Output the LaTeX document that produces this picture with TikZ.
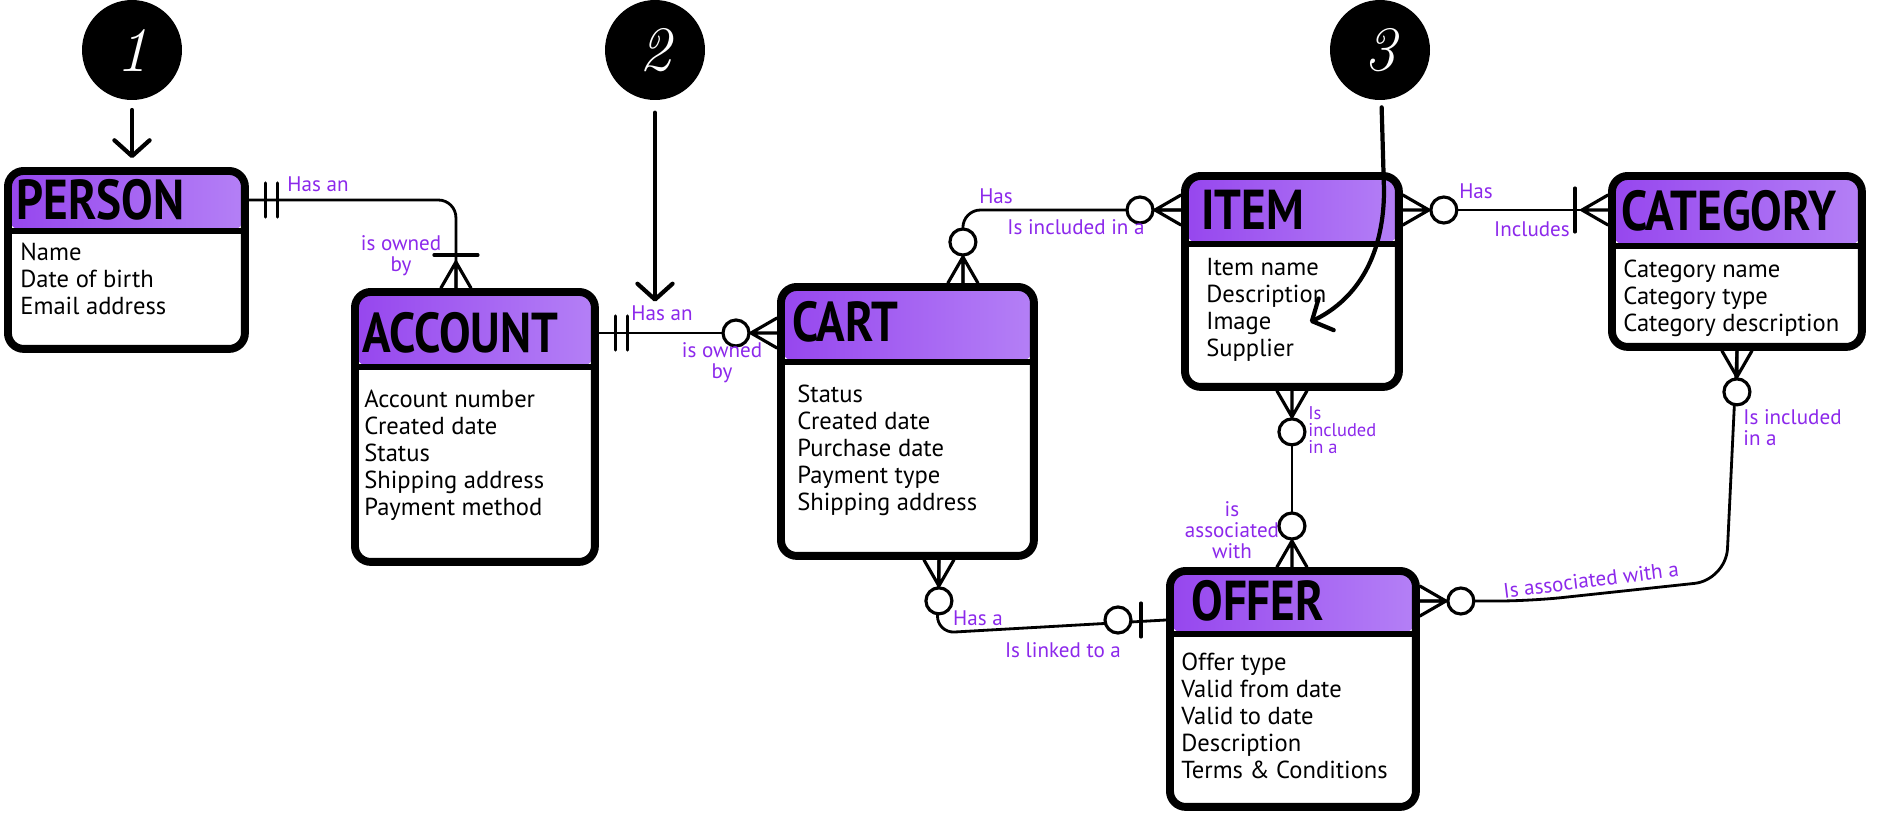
\documentclass[tikz,border=0pt]{standalone}
\usepackage{fontspec}
\setsansfont{PT Sans}
\newfontfamily\titlefont[FakeStretch=0.84]{PT Sans}
\usetikzlibrary{arrows.meta,calc}

\definecolor{headL}{RGB}{150,70,238}
\definecolor{headR}{RGB}{180,128,246}
\definecolor{relpurple}{RGB}{140,40,235}

\tikzset{
  % entity box, #1 = height of the purple header
  entity/.style={draw, line width=4.5pt, rounded corners=9pt, fill=white,
    inner sep=0pt, anchor=north west,
    path picture={
      \shade[left color=headL, right color=headR]
        (path picture bounding box.north west) rectangle
        ([yshift=-#1]path picture bounding box.north east);
      \draw[line width=3.4pt]
        ([yshift=-#1]path picture bounding box.north west) --
        ([yshift=-#1]path picture bounding box.north east);}},
  title/.style={font=\titlefont\bfseries\fontsize{32}{32}\selectfont,
    anchor=west, inner sep=0pt},
  attrs/.style={font=\sffamily\fontsize{14}{15.3}\selectfont, align=left,
    anchor=north west, inner sep=0pt},
  rel/.style={text=relpurple, font=\sffamily\fontsize{12}{12}\selectfont,
    align=center, inner sep=0pt},
  conn/.style={line width=1.6pt, rounded corners=10pt},
  badge/.style={circle, fill=black, text=white, minimum size=2cm, inner sep=0pt,
    font=\rmfamily\itshape\fontsize{36}{36}\selectfont},
  pointer/.style={line width=2.4pt, line cap=round,
    -{Straight Barb[length=9pt,width=20pt,round]}},
  footline/.style={line width=1.8pt, line cap=round},
  % crow's foot ends, drawn with the entity at the origin, line along +x
  pics/zeromany/.style={code={
    \draw[footline] (0,15) -- (26,0) -- (0,-15) (0,0) -- (26,0);
    \draw[footline, fill=white] (41,0) circle[radius=13];}},
  pics/onemany/.style={code={
    \draw[footline] (0,15) -- (26,0) -- (0,-15) (0,0) -- (26,0);
    \draw[footline] (33,-22) -- (33,22);}},
  pics/onlyone/.style={code={
    \draw[footline] (17,-17) -- (17,17) (29,-17) -- (29,17);}},
  pics/zeroone/.style={code={
    \draw[footline] (25,-17) -- (25,17);
    \draw[footline, fill=white] (48,0) circle[radius=13];}},
}

\begin{document}
\begin{tikzpicture}[x=0.02cm, y=-0.02cm, font=\sffamily]
  \useasboundingbox (0,0) rectangle (1890,812);

  % Entities
  \node[entity=1.2cm, minimum width=4.74cm, minimum height=3.56cm] (person) at (4,167) {};
  \node[entity=1.5cm, minimum width=4.8cm, minimum height=5.4cm] (account) at (351,288) {};
  \node[entity=1.5cm, minimum width=5.06cm, minimum height=5.38cm] (cart) at (777,283) {};
  \node[entity=1.36cm, minimum width=4.28cm, minimum height=4.22cm] (item) at (1181,172) {};
  \node[entity=1.4cm, minimum width=5cm, minimum height=3.42cm] (category) at (1608,172) {};
  \node[entity=1.26cm, minimum width=4.92cm, minimum height=4.72cm] (offer) at (1166,567) {};

  % Titles
  \node[title] (personT) at (16,200) {PERSON};
  \node[title] (accountT) at (362,333) {ACCOUNT};
  \node[title] (cartT) at (792,322) {CART};
  \node[title] (itemT) at (1201,210) {ITEM};
  \node[title] (categoryT) at (1621,211) {CATEGORY};
  \node[title] (offerT) at (1191,601) {OFFER};

  % Attributes
  \node[attrs] (personA) at (20,243) {Name\\Date of birth\\Email address};
  \node[attrs] (accountA) at (364,390)
    {Account number\\Created date\\Status\\Shipping address\\Payment method};
  \node[attrs] (cartA) at (797,385)
    {Status\\Created date\\Purchase date\\Payment type\\Shipping address};
  \node[attrs] (itemA) at (1206,258) {Item name\\Description\\Image\\Supplier};
  \node[attrs] (categoryA) at (1623,260)
    {Category name\\Category type\\Category description};
  \node[attrs] (offerA) at (1181,653)
    {Offer type\\Valid from date\\Valid to date\\Description\\Terms \& Conditions};

  % PERSON -- ACCOUNT
  \coordinate (accTop) at ([xshift=-0.38cm]account.north);
  \draw[conn] (person.east |- personT) -| (accTop);
  \pic at (person.east |- personT) {onlyone};
  \pic[rotate=90] at (accTop) {onemany};

  % ACCOUNT -- CART
  \draw[conn] (account.east |- accountT) -- (cart.west |- accountT);
  \pic at (account.east |- accountT) {onlyone};
  \pic[rotate=180] at (cart.west |- accountT) {zeromany};

  % CART -- ITEM
  \coordinate (cartTop) at ([xshift=1.11cm]cart.north);
  \draw[conn] (cartTop) |- (item.west |- itemT);
  \pic[rotate=90] at (cartTop) {zeromany};
  \pic[rotate=180] at (item.west |- itemT) {zeromany};

  % ITEM -- CATEGORY
  \draw[conn] (item.east |- itemT) -- (category.west |- itemT);
  \pic at (item.east |- itemT) {zeromany};
  \pic[rotate=180] at (category.west |- itemT) {onemany};

  % ITEM -- OFFER
  \draw[conn] (item.south) -- (item.south |- offer.north);
  \pic[rotate=-90] at (item.south) {zeromany};
  \pic[rotate=90] at (item.south |- offer.north) {zeromany};

  % CATEGORY -- OFFER
  \draw[conn, rounded corners=18pt] (category.south) -- (1726,580) -- (1530,601)
    -- (offer.east |- offerT);
  \pic[rotate=-90] at (category.south) {zeromany};
  \pic at (offer.east |- offerT) {zeromany};

  % CART -- OFFER
  \coordinate (cartBot) at ([xshift=0.63cm]cart.south);
  \coordinate (offerL) at ([yshift=-1.06cm]offer.north west);
  \draw[conn] (cartBot) -- (937,633) -- (offerL);
  \pic[rotate=-90] at (cartBot) {zeromany};
  \pic[rotate=180] at (offerL) {zeroone};

  % Relationship labels
  \node[rel] (lblP1) at (318,184) {Has an};
  \node[rel] (lblP2) at (401,256) {is owned\\by};
  \node[rel] (lblA1) at (662,313) {Has an};
  \node[rel] (lblA2) at (722,363) {is owned\\by};
  \node[rel] (lblC1) at (996,196) {Has};
  \node[rel] (lblC2) at (1076,227) {Is included in a};
  \node[rel] (lblI1) at (1476,191) {Has};
  \node[rel] (lblI2) at (1532,229) {Includes};
  \node[rel, align=left, anchor=west, font=\sffamily\fontsize{10.5}{9.5}\selectfont]
    (lblI3) at (1308,430) {Is\\included\\in a};
  \node[rel] (lblO1) at (1232,530) {is\\associated\\with};
  \node[rel, align=left, anchor=west] (lblK1) at (1743,428) {Is included\\in a};
  \node[rel, rotate=7] (lblO2) at (1591,580) {Is associated with a};
  \node[rel] (lblO3) at (978,618) {Has a};
  \node[rel] (lblO4) at (1063,650) {Is linked to a};

  % Numbered callouts
  \node[badge] (b1) at (132,50) {1};
  \node[badge] (b2) at (655,50) {2};
  \node[badge] (b3) at (1380,50) {3};
  \draw[pointer, shorten <=5.5pt, shorten >=5pt] (b1) -- (b1 |- person.north);
  \draw[pointer, shorten <=7pt, shorten >=2pt] (b2) -- (b2 |- lblA1.north);
  \coordinate (imgTip) at (1310,322);
  \draw[pointer, shorten <=4pt] (b3) -- (1384,190)
    .. controls (1384,262) and (1352,302) .. (imgTip);
\end{tikzpicture}
\end{document}
